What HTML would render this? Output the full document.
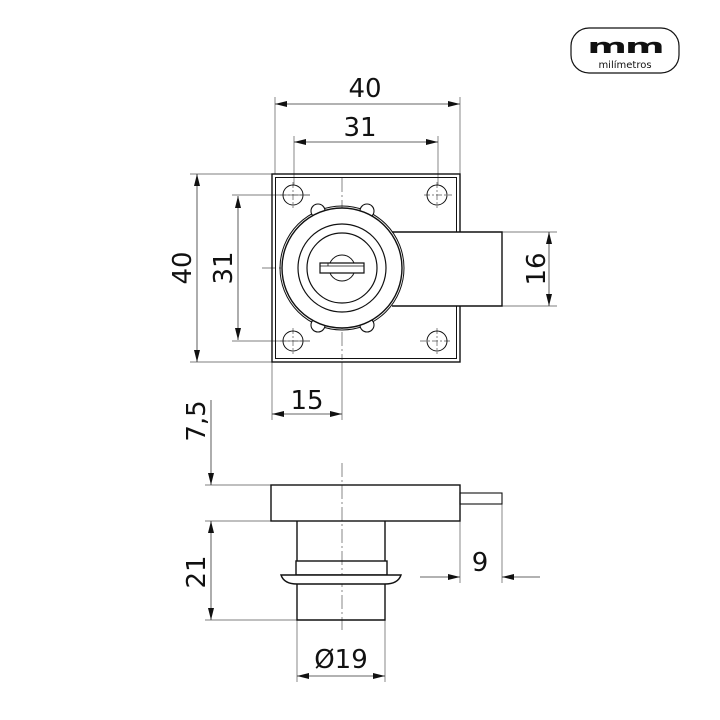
<!DOCTYPE html>
<html><head><meta charset="utf-8"><style>
html,body{margin:0;padding:0;background:#fff;width:720px;height:720px;overflow:hidden}
text{font-family:"DejaVu Sans","Liberation Sans",sans-serif;fill:#111}
</style></head><body>
<svg width="720" height="720" viewBox="0 0 720 720" xmlns="http://www.w3.org/2000/svg">
<defs>
<marker id="a" viewBox="0 0 12 6" refX="12" refY="3" markerWidth="12" markerHeight="6" markerUnits="userSpaceOnUse" orient="auto-start-reverse"><path d="M0,0 L12,3 L0,6 z" fill="#111"/></marker>
</defs>
<g stroke="#111" fill="none">
<!-- logo -->
<rect x="571" y="28" width="108" height="45" rx="18" stroke-width="1.2"/>
<text transform="translate(625,53) scale(1.9,1)" font-size="20" font-weight="bold" text-anchor="middle" stroke="none" font-family="Liberation Serif" letter-spacing="-1">mm</text>
<text x="625" y="68" font-size="10" text-anchor="middle" stroke="none">milímetros</text>

<!-- thin lines -->
<g stroke-width="0.7" stroke="#555">
<line x1="275" y1="97" x2="275" y2="174"/><line x1="460" y1="97" x2="460" y2="174"/>
<line x1="294" y1="136" x2="294" y2="185"/><line x1="438" y1="136" x2="438" y2="185"/>
<line x1="190" y1="174" x2="272" y2="174"/><line x1="190" y1="362" x2="272" y2="362"/>
<line x1="232" y1="195" x2="310" y2="195"/><line x1="232" y1="341" x2="310" y2="341"/>
<line x1="502" y1="232" x2="557" y2="232"/><line x1="502" y1="306" x2="557" y2="306"/>
<line x1="272" y1="362" x2="272" y2="420"/><line x1="342" y1="362" x2="342" y2="420"/>
<line x1="205" y1="485" x2="271" y2="485"/><line x1="205" y1="521" x2="271" y2="521"/>
<line x1="205" y1="620" x2="297" y2="620"/>
<line x1="460" y1="521" x2="460" y2="583"/><line x1="502" y1="504" x2="502" y2="583"/>
<line x1="297" y1="620" x2="297" y2="682"/><line x1="385" y1="620" x2="385" y2="682"/>
<line x1="342" y1="178" x2="342" y2="360" stroke-dasharray="14,3,2,3"/>
<line x1="262" y1="268" x2="500" y2="268" stroke-dasharray="14,3,2,3"/>
<line x1="342" y1="463" x2="342" y2="630" stroke-dasharray="14,3,2,3"/>
<g stroke-dasharray="6,2,2,2">
<line x1="280" y1="195" x2="312" y2="195"/><line x1="293" y1="182" x2="293" y2="208"/>
<line x1="424" y1="195" x2="452" y2="195"/><line x1="437" y1="182" x2="437" y2="208"/>
<line x1="280" y1="341" x2="312" y2="341"/><line x1="293" y1="328" x2="293" y2="354"/>
<line x1="420" y1="341" x2="452" y2="341"/><line x1="437" y1="328" x2="437" y2="354"/>
</g>
</g>

<!-- dim lines -->
<g stroke-width="0.8" stroke="#333">
<line x1="275" y1="104" x2="460" y2="104" marker-start="url(#a)" marker-end="url(#a)"/>
<line x1="294" y1="142" x2="438" y2="142" marker-start="url(#a)" marker-end="url(#a)"/>
<line x1="197" y1="174" x2="197" y2="362" marker-start="url(#a)" marker-end="url(#a)"/>
<line x1="238" y1="196" x2="238" y2="340" marker-start="url(#a)" marker-end="url(#a)"/>
<line x1="549" y1="232" x2="549" y2="306" marker-start="url(#a)" marker-end="url(#a)"/>
<line x1="272" y1="414" x2="342" y2="414" marker-start="url(#a)" marker-end="url(#a)"/>
<line x1="211" y1="400" x2="211" y2="485" marker-end="url(#a)"/>
<line x1="211" y1="521" x2="211" y2="620" marker-start="url(#a)" marker-end="url(#a)"/>
<line x1="420" y1="577" x2="460" y2="577" marker-end="url(#a)"/>
<line x1="540" y1="577" x2="502" y2="577" marker-end="url(#a)"/>
<line x1="297" y1="676" x2="385" y2="676" marker-start="url(#a)" marker-end="url(#a)"/>
</g>

<!-- top view object -->
<g stroke-width="1.4">
<rect x="272" y="174" width="188" height="188"/>
<rect x="275.5" y="177.5" width="181" height="181" stroke-width="1"/>
<circle cx="293" cy="195" r="10" stroke-width="1"/><circle cx="437" cy="195" r="10" stroke-width="1"/>
<circle cx="293" cy="341" r="10" stroke-width="1"/><circle cx="437" cy="341" r="10" stroke-width="1"/>
<path d="M392,232 L502,232 L502,306 L392,306" fill="#fff"/>
<circle cx="342" cy="268" r="62" stroke-width="1"/>
<g fill="#fff" stroke-width="1.1">
<circle cx="318" cy="211" r="7"/><circle cx="367" cy="211" r="7"/>
<circle cx="318" cy="325" r="7"/><circle cx="367" cy="325" r="7"/>
</g>
<circle cx="342" cy="268" r="60" fill="#fff"/>
<circle cx="342" cy="268" r="44" stroke-width="1.2"/>
<circle cx="342" cy="268" r="35" stroke-width="1.2"/>
<circle cx="342" cy="268" r="13" stroke-width="1"/>
<path d="M320,263 h44 v10 h-44 z" fill="#fff" stroke-width="1.2"/>
<path d="M320,266 h8 v-3 M328,266 h36" stroke-width="0.8"/>
</g>

<!-- side view object -->
<g stroke-width="1.4">
<rect x="271" y="485" width="189" height="36"/>
<rect x="460" y="493" width="42" height="11" stroke-width="1.1"/>
<line x1="297" y1="521" x2="297" y2="561"/><line x1="385" y1="521" x2="385" y2="561"/>
<rect x="296" y="561" width="91" height="14"/>
<path d="M281,575 L401,575 Q398,584 385,584 L297,584 Q284,584 281,575 z" fill="#fff"/>
<path d="M297,584 L297,620 L385,620 L385,584"/>
</g>
</g>

<!-- labels -->
<g font-size="26">
<text x="365" y="97" text-anchor="middle">40</text>
<text x="360" y="136" text-anchor="middle">31</text>
<text transform="translate(191,268) rotate(-90)" text-anchor="middle">40</text>
<text transform="translate(232,268) rotate(-90)" text-anchor="middle">31</text>
<text transform="translate(545,269) rotate(-90)" text-anchor="middle">16</text>
<text x="307" y="409" text-anchor="middle">15</text>
<text transform="translate(205,421) rotate(-90)" text-anchor="middle">7,5</text>
<text transform="translate(205,572) rotate(-90)" text-anchor="middle">21</text>
<text x="480" y="571" text-anchor="middle">9</text>
<text x="341" y="668" text-anchor="middle">Ø19</text>
</g>
</svg>
</body></html>
